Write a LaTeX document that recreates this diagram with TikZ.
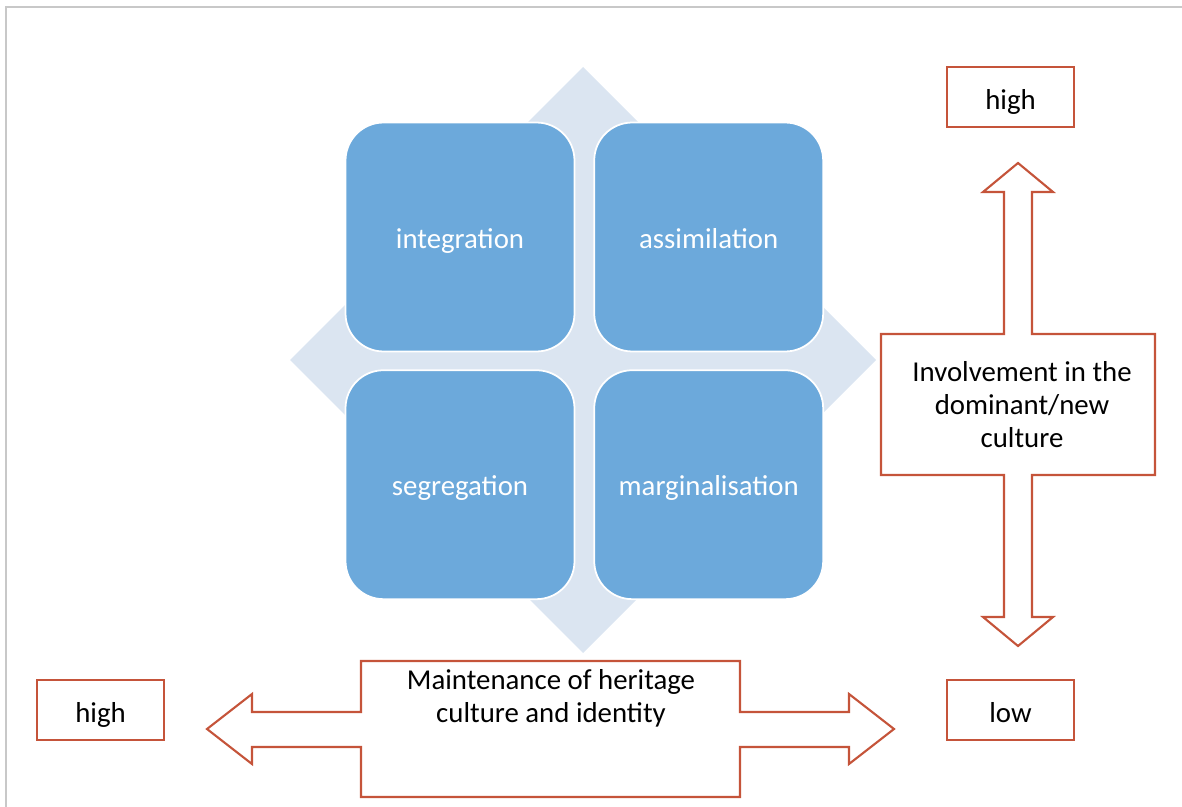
\documentclass[tikz,border=0pt]{standalone}
\usepackage{fontspec}
\setmainfont{Carlito}
\usetikzlibrary{positioning}
\definecolor{quadblue}{RGB}{108,169,219}
\definecolor{diamondblue}{RGB}{219,229,241}
\definecolor{arrowred}{RGB}{197,84,58}
\definecolor{framegrey}{RGB}{200,200,200}

\begin{document}
\begin{tikzpicture}[x=0.02cm, y=-0.02cm]
        \tikzstyle{quadrant} = [rectangle, rounded corners=0.76cm, minimum width=4.58cm, minimum height=4.58cm, text centered, text height=16pt, text depth=3.3pt, draw=white, line width=1pt, fill=quadblue, text=white, font=\fontsize{16.4}{18.8}\selectfont]
        \tikzstyle{level} = [rectangle, minimum width=2.54cm, minimum height=1.2cm, text centered, text height=17pt, text depth=3.3pt, draw=arrowred, line width=1.2pt, fill=white, font=\fontsize{16.4}{18.8}\selectfont]
        \tikzstyle{blockarrow} = [draw=arrowred, line width=1.2pt, fill=white, line join=miter]
        \tikzstyle{caption} = [align=center, font=\fontsize{16.4}{18.8}\selectfont]

        \useasboundingbox (0,0) rectangle (1182,807);
        \draw [framegrey, line width=0.8pt] (1182,7) -- (6,7) -- (6,807);

        % diamond behind the four quadrants
        \fill [diamondblue] (583,67) -- (876,360) -- (583,653) -- (290,360) -- cycle;

        \node (integration) [quadrant] at (460,237) {integration};
        \node (assimilation) [quadrant, right=0.36cm of integration] {assimilation};
        \node (segregation) [quadrant, below=0.34cm of integration] {segregation};
        \node (marginalisation) [quadrant, right=0.36cm of segregation] {marginalisation};

        % vertical double arrow
        \draw [blockarrow] (1018,163) -- (1053,192) -- (1032,192) -- (1032,334) -- (1155,334) -- (1155,475)
            -- (1032,475) -- (1032,617) -- (1053,617) -- (1018,646) -- (983,617) -- (1004,617) -- (1004,475)
            -- (881,475) -- (881,334) -- (1004,334) -- (1004,192) -- (983,192) -- cycle;
        \node (involvement) [caption] at (1022,405) {Involvement in the\\dominant/new\\culture};

        % horizontal double arrow
        \draw [blockarrow] (207,729) -- (252,694) -- (252,712) -- (361,712) -- (361,661) -- (740,661) -- (740,712)
            -- (849,712) -- (849,694) -- (894,729) -- (849,764) -- (849,747) -- (740,747) -- (740,797)
            -- (361,797) -- (361,747) -- (252,747) -- (252,764) -- cycle;
        \node (maintenance) [caption] at (551,698) {Maintenance of heritage\\culture and identity};

        \node (highnew) [level] at (1010.5,97) {high};
        \node (lownew) [level] at (1010.5,710) {low};
        \node (highheritage) [level] at (100.5,710) {high};
    \end{tikzpicture}
\end{document}
